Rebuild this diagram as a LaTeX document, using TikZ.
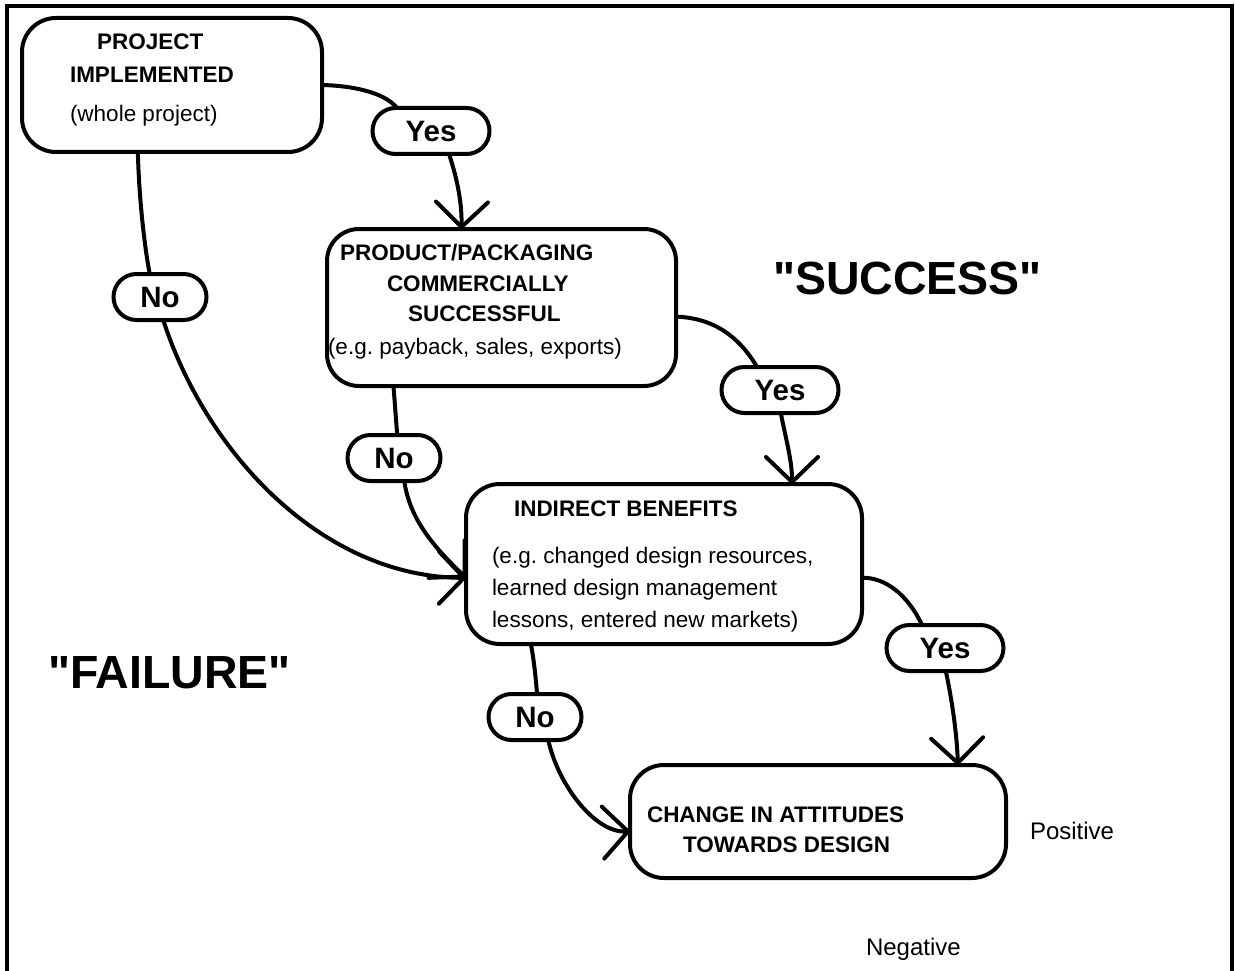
\documentclass[tikz,border=0pt]{standalone}
\usepackage{fontspec}
\setmainfont{Liberation Sans}[Ligatures=TeXOff]
\usetikzlibrary{arrows.meta}
\frenchspacing
\begin{document}
\begin{tikzpicture}[x=1pt,y=-1pt,
  every node/.style={inner sep=0pt, outer sep=0pt},
  flowbox/.style={draw, line width=4pt, rounded corners=34pt, rectangle},
  answer/.style={draw, line width=4pt, rounded corners=23pt, minimum height=46pt,
    font=\fontsize{29.5}{32}\selectfont\bfseries},
  yesans/.style={answer, minimum width=117pt},
  noans/.style={answer, minimum width=93pt},
  flow/.style={line width=4pt},
  arrowflow/.style={flow, -{Straight Barb[length=25pt,width=52pt,round]}},
  boldline/.style={anchor=base west, font=\fontsize{22.5}{27}\selectfont\bfseries},
  plainline/.style={anchor=base west, font=\fontsize{22.5}{27}\selectfont},
  sideline/.style={anchor=base west, font=\fontsize{24}{28}\selectfont},
  verdict/.style={anchor=base west, font=\fontsize{46.5}{50}\selectfont\bfseries},
]
\useasboundingbox (0,0) rectangle (1235,971);

% outer frame, open at the bottom
\draw[line width=4.5pt] (7,990) -- (7,6) -- (1232,6) -- (1232,990);

% decision boxes
\node[flowbox, minimum width=300pt, minimum height=134pt] (b1) at (172,85) {};
\node[flowbox, rounded corners=32pt, minimum width=349pt, minimum height=157pt] (b2) at (501.5,307.5) {};
\node[flowbox, minimum width=396pt, minimum height=160pt] (b3) at (664,564) {};
\node[flowbox, minimum width=376pt, minimum height=113pt] (b4) at (818,821.5) {};

% box texts
\node[boldline]  (t1a) at (97,50)  {PROJECT};
\node[boldline]  (t1b) at (70,83)  {IMPLEMENTED};
\node[plainline] (t1c) at (70,122) {(whole project)};

\node[boldline]  (t2a) at (340,260) {PRODUCT/PACKAGING};
\node[boldline]  (t2b) at (387,291) {COMMERCIALLY};
\node[boldline]  (t2c) at (408,321) {SUCCESSFUL};
\node[plainline] (t2d) at (328,354) {(e.g. payback, sales, exports)};

\node[boldline]  (t3a) at (514,516) {INDIRECT BENEFITS};
\node[plainline] (t3b) at (492,563) {(e.g. changed design resources,};
\node[plainline] (t3c) at (492,595) {learned design management};
\node[plainline] (t3d) at (492,627) {lessons, entered new markets)};

\node[boldline]  (t4a) at (647,822) {CHANGE IN ATTITUDES};
\node[boldline]  (t4b) at (683,852) {TOWARDS DESIGN};

% answers
\node[yesans] (yes1) at (431,131) {Yes};
\node[noans]  (no1)  at (160,297) {No};
\node[noans]  (no2)  at (394,458) {No};
\node[yesans] (yes2) at (780,390) {Yes};
\node[yesans] (yes3) at (945,648) {Yes};
\node[noans]  (no3)  at (535,717) {No};

% side labels
\node[verdict]  (succ) at (773,294) {"SUCCESS"};
\node[verdict]  (fail) at (48,688)  {"FAILURE"};
\node[sideline] (pos)  at (1030,839) {Positive};
\node[sideline] (neg)  at (866,955)  {Negative};

% connectors
\draw[flow]      (b1.east) .. controls (362,86) and (388,96) .. (yes1.146);
\draw[arrowflow] (yes1.-52) .. controls (456,175) and (462,200) .. (b2.117);

\draw[flow]      (b1.-117) .. controls (139,200) and (145,250) .. (no1.114);
\draw[arrowflow] (no1.-82) .. controls (205,450) and (320,577) .. (b3.-176);

\draw[flow]      (b2.-144) .. controls (395,405) and (396,420) .. (no2.82);
\draw[arrowflow] (no2.-66) .. controls (410,520) and (434,547) .. (b3.-176);

\draw[flow]      (b2.-3) .. controls (715,318) and (740,338) .. (yes2.135);
\draw[arrowflow] (yes2.-88) .. controls (786,440) and (792,460) .. (b3.32);

\draw[flow]      (b3.-4) .. controls (885,577) and (908,595) .. (yes3.135);
\draw[arrowflow] (yes3.-88) .. controls (952,700) and (957,735) .. (b4.22);

\draw[flow]      (b3.-149) .. controls (534,660) and (536,680) .. (no3.85);
\draw[arrowflow] (no3.-60) .. controls (558,785) and (595,833) .. (b4.-177);
\end{tikzpicture}
\end{document}
